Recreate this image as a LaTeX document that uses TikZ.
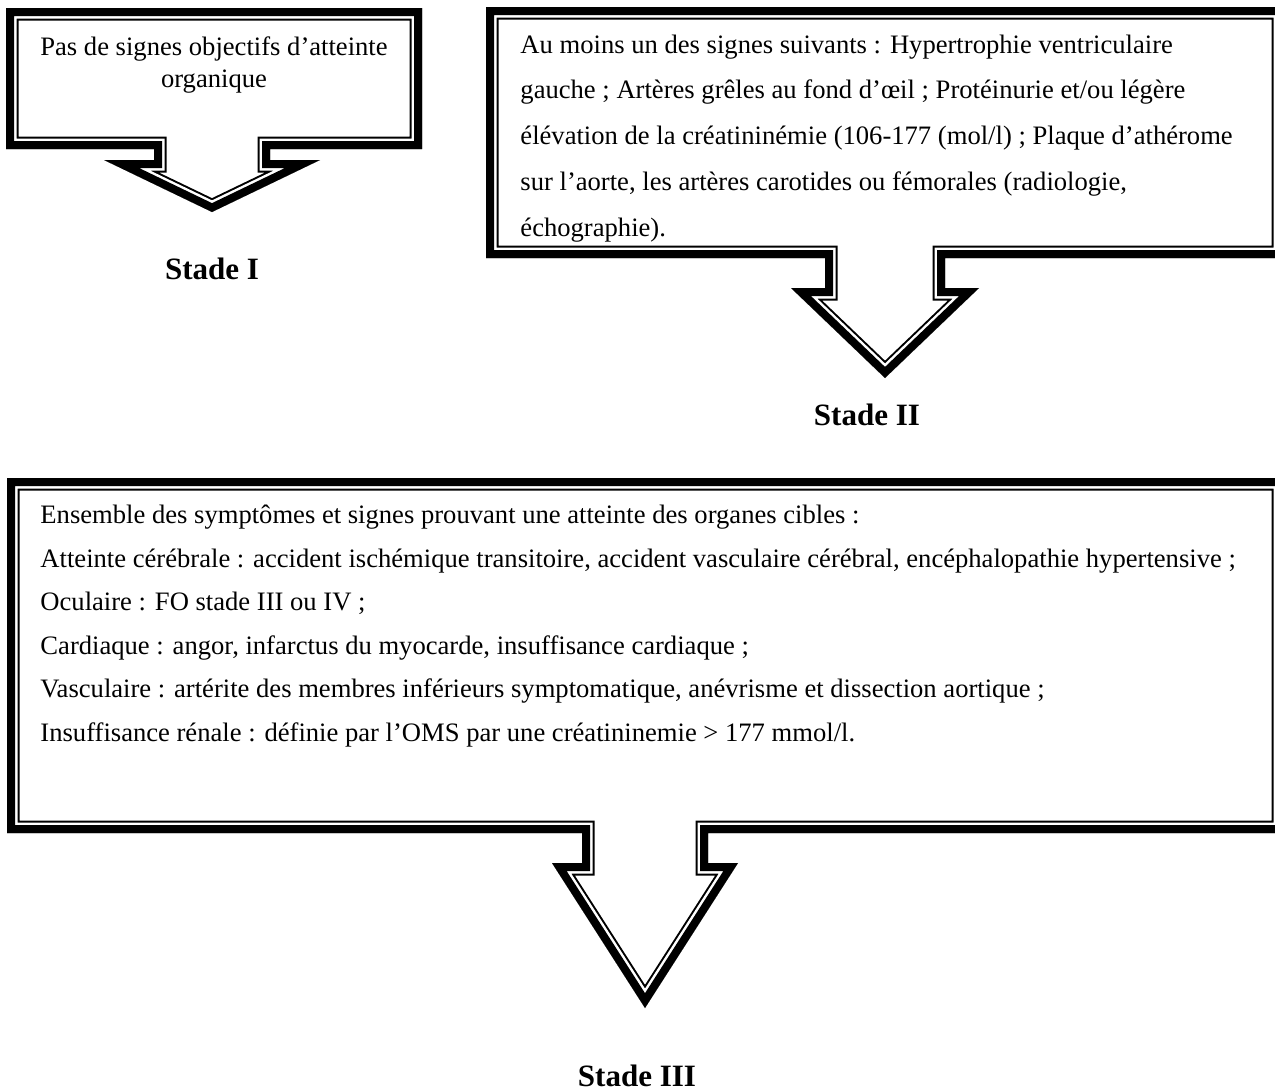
\documentclass[tikz,border=0pt]{standalone}
\usepackage{fontspec}
\setmainfont{Liberation Serif}
\usepackage{tikz}

\newcommand{\stadecallout}[9]{%
  \begin{scope}
    \clip (#1,#2) -- (#3,#2) -- (#3,#4) -- ({#5+#6},#4) -- ({#5+#6},#8) -- ({#5+#7},#8) -- (#5,#9)
      -- ({#5-#7},#8) -- ({#5-#6},#8) -- ({#5-#6},#4) -- (#1,#4) -- cycle;
    \foreach \w/\c in {25/black,21/white,16/black}
      \draw[line width={\w*0.451pt}, draw=\c, miter limit=20] (#1,#2) -- (#3,#2) -- (#3,#4) -- ({#5+#6},#4)
        -- ({#5+#6},#8) -- ({#5+#7},#8) -- (#5,#9) -- ({#5-#7},#8) -- ({#5-#6},#8) -- ({#5-#6},#4) -- (#1,#4) -- cycle;
  \end{scope}}

\begin{document}
\begin{tikzpicture}[x=0.451pt, y=-0.451pt, every node/.style={inner sep=0pt},
  txt/.style={font=\fontsize{12}{#1}\selectfont, align=left},
  stade/.style={font=\fontsize{14}{17}\selectfont\bfseries}]
\useasboundingbox (0,0) rectangle (1275,1091);

\stadecallout{6}{8}{422}{149}{212}{58}{108}{160}{212}
\stadecallout{486}{7}{1284}{258}{885}{60}{94}{288}{378}
\stadecallout{7}{478}{1284}{833}{645}{63}{93}{863}{1008}

\node[txt=14.4pt, align=center, anchor=base] (signes1) at (214,87)
  {Pas de signes objectifs d’atteinte\\organique};
\node[txt=20.6pt, anchor=base west] (signes2) at (520,236)
  {Au moins un des signes suivants : Hypertrophie ventriculaire\\
   gauche ; Artères grêles au fond d’œil ; Protéinurie et/ou légère\\
   élévation de la créatininémie (106-177 (mol/l) ; Plaque d’athérome\\
   sur l’aorte, les artères carotides ou fémorales (radiologie,\\
   échographie).};
\node[txt=19.6pt, anchor=base west] (signes3) at (40,741)
  {Ensemble des symptômes et signes prouvant une atteinte des organes cibles :\\
   Atteinte cérébrale : accident ischémique transitoire, accident vasculaire cérébral, encéphalopathie hypertensive ;\\
   Oculaire : FO stade III ou IV ;\\
   Cardiaque : angor, infarctus du myocarde, insuffisance cardiaque ;\\
   Vasculaire : artérite des membres inférieurs symptomatique, anévrisme et dissection aortique ;\\
   Insuffisance rénale : définie par l’OMS par une créatininemie > 177 mmol/l.};

\node[stade, anchor=base] (stade1) at (212,279) {Stade I};
\node[stade, anchor=base] (stade2) at (867,425) {Stade II};
\node[stade, anchor=base] (stade3) at (637,1086) {Stade III};
\end{tikzpicture}
\end{document}
